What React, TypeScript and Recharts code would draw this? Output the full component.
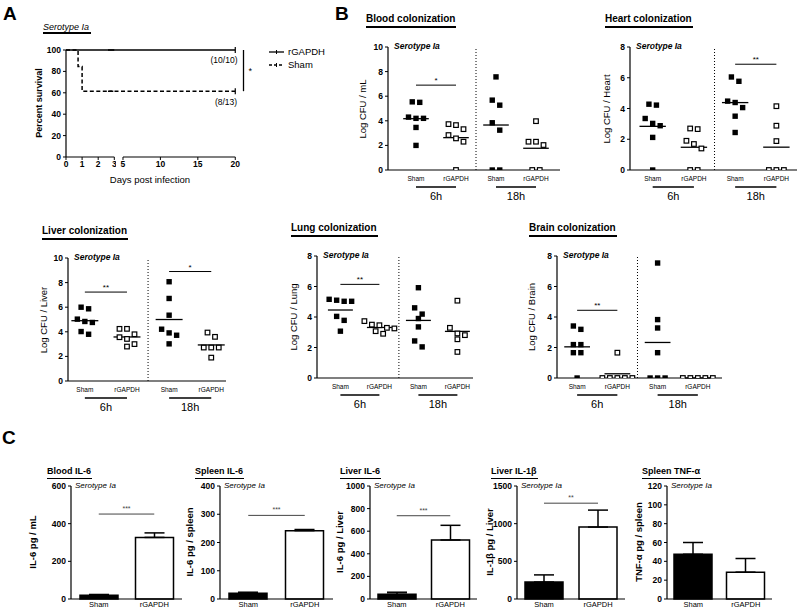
import React from 'react';
import {
  LineChart, Line, ScatterChart, Scatter, BarChart, Bar, Cell, ErrorBar,
  XAxis, YAxis, ReferenceLine,
} from 'recharts';

const FONT = 'Arial, "Liberation Sans", Helvetica, sans-serif';

// ---------- A: survival ----------
const survivalDays = [0, 0.75, 1, 3, 5, 20];
const shamSurvival = [100, 84.6, 61.5, 61.5, 61.5, 61.5];
const rgapdhSurvival = [100, 100, 100, 100, 100, 100];
const survivalTicks = [0, 20, 40, 60, 80, 100];
const earlyDayTicks = [0, 1, 2, 3];
const lateDayTicks = [5, 10, 15, 20];

// ---------- B: colonization (Log CFU) ----------
const groupLabels = ['Sham', 'rGAPDH', 'Sham', 'rGAPDH'];
const timeLabels = ['6h', '18h'];

const bloodSham6h = [5.54, 5.5, 4.3, 4.2, 4.2, 3.46, 2.0];
const bloodRgapdh6h = [3.73, 3.65, 3.32, 2.84, 2.57, 2.3, 0];
const bloodSham18h = [7.57, 5.68, 5.27, 3.84, 3.24, 0, 0];
const bloodRgapdh18h = [3.97, 2.3, 2.3, 2.03, 0, 0];

const heartSham6h = [4.28, 4.22, 3.35, 3.03, 2.88, 2.12, 0];
const heartRgapdh6h = [2.7, 2.66, 1.9, 1.69, 1.4, 0, 0];
const heartSham18h = [6.05, 5.77, 4.48, 4.39, 4.06, 3.5, 2.44];
const heartRgapdh18h = [4.15, 2.88, 1.88, 0, 0, 0];

const liverSham6h = [6.0, 5.87, 5.03, 4.84, 4.76, 4.02, 3.8];
const liverRgapdh6h = [4.24, 4.24, 3.8, 3.56, 3.42, 3.0, 2.8];
const liverSham18h = [8.07, 6.71, 5.35, 4.21, 3.91, 3.72, 3.02];
const liverRgapdh18h = [3.94, 3.59, 2.72, 2.72, 2.72, 1.9];

const lungSham6h = [5.16, 5.1, 5.03, 5.03, 4.04, 3.78, 3.07];
const lungRgapdh6h = [3.73, 3.5, 3.46, 3.29, 3.25, 3.07, 2.9];
const lungSham18h = [5.92, 4.6, 4.19, 3.9, 3.35, 2.43, 2.04];
const lungRgapdh18h = [5.07, 3.29, 2.92, 2.81, 2.54, 1.71];

const brainSham6h = [3.41, 3.19, 2.19, 2.19, 1.66, 1.66, 0];
const brainRgapdh6h = [1.66, 0, 0, 0, 0, 0];
const brainSham18h = [7.54, 3.83, 3.28, 1.66, 0, 0, 0];
const brainRgapdh18h = [0, 0, 0, 0, 0];

const bloodSigs = [{ from: 1, to: 2, y: 6.9, label: '*' }];
const heartSigs = [{ from: 3, to: 4, y: 6.88, label: '**' }];
const liverSigs = [{ from: 1, to: 2, y: 7.23, label: '**' }, { from: 3, to: 4, y: 8.9, label: '*' }];
const lungSigs = [{ from: 1, to: 2, y: 6.14, label: '**' }];
const brainSigs = [{ from: 1, to: 2, y: 4.44, label: '**' }];

// ---------- C: cytokines (mean + SEM) ----------
const cytokineGroups = ['Sham', 'rGAPDH'];
const bloodIl6Mean = [20, 327];
const bloodIl6Sem = [4, 24];
const spleenIl6Mean = [20, 242];
const spleenIl6Sem = [4, 4];
const liverIl6Mean = [42, 522];
const liverIl6Sem = [18, 130];
const liverIl1bMean = [225, 955];
const liverIl1bSem = [95, 225];
const spleenTnfMean = [47.5, 28.5];
const spleenTnfSem = [12.5, 14.5];

// ---------- helpers ----------
type Box = { x0: number; y0: number; x1: number; y1: number };
type Sig = { from: number; to: number; y: number; label: string };

const tickStyle = { fontSize: 8.5, fontWeight: 'bold', fill: '#000', fontFamily: FONT };
const axisLine = { stroke: '#000', strokeWidth: 1.2 };

const steps = (max: number, step: number) => {
  const out: number[] = [];
  for (let v = 0; v <= max + 1e-9; v += step) out.push(v);
  return out;
};

const Text = ({ x, y, text, size = 9, bold = false, italic = false, center = false }: any) => (
  <div style={{
    position: 'absolute', left: x, top: y, transform: center ? 'translate(-50%, -50%)' : 'translateY(-50%)',
    fontFamily: FONT, fontSize: size, fontWeight: bold ? 'bold' : 'normal', fontStyle: italic ? 'italic' : 'normal',
    whiteSpace: 'nowrap', lineHeight: 1,
  }}>{text}</div>
);

const VText = ({ x, y, text, size = 9.5, bold = false }: any) => (
  <div style={{
    position: 'absolute', left: x, top: y, transform: 'translate(-50%, -50%) rotate(-90deg)',
    fontFamily: FONT, fontSize: size, fontWeight: bold ? 'bold' : 'normal', whiteSpace: 'nowrap', lineHeight: 1,
  }}>{text}</div>
);

const Title = ({ x, y, text, size = 10, line = 2 }: any) => (
  <div style={{
    position: 'absolute', left: x, top: y, fontFamily: FONT, fontWeight: 'bold', fontSize: size,
    lineHeight: `${size + 2}px`, borderBottom: `${line}px solid #000`, paddingBottom: 1, paddingRight: 1, whiteSpace: 'nowrap',
  }}>{text}</div>
);

// beeswarm-like arrangement: values close in y share a row, centred on the group
function swarm(values: number[], center: number, rowTol: number, step: number) {
  const sorted = [...values].sort((a, b) => b - a);
  const pts: { x: number; y: number }[] = [];
  let i = 0;
  while (i < sorted.length) {
    let j = i;
    while (j < sorted.length && sorted[i] - sorted[j] <= rowTol) j++;
    const n = j - i;
    for (let k = 0; k < n; k++) pts.push({ x: center + (k - (n - 1) / 2) * step, y: sorted[i + k] });
    i = j;
  }
  return pts;
}

const filledSquare = (p: any) => <rect x={p.cx - 2.7} y={p.cy - 2.7} width={5.4} height={5.4} fill="#000" />;
const openSquare = (p: any) => (
  <rect x={p.cx - 2.3} y={p.cy - 2.3} width={4.6} height={4.6} fill="#fff" stroke="#000" strokeWidth={1.2} />
);

const S_PAD_L = 26, S_PAD_R = 6, S_PAD_T = 8, S_PAD_B = 36;

function ScatterPanel({ box, xDomain, yMax, groups, sigs }: { box: Box; xDomain: number[]; yMax: number; groups: number[][]; sigs: Sig[] }) {
  const w = box.x1 - box.x0;
  const h = box.y1 - box.y0;
  const pxX = w / (xDomain[1] - xDomain[0]);
  const pxY = h / yMax;
  const sets = groups.map((vals, g) => swarm(vals, g + 1, 8 / pxY, 7.5 / pxX));
  const means = groups.map((vals) => vals.reduce((a, b) => a + b, 0) / vals.length);

  const groupTick = (p: any) => {
    const v = p.payload.value;
    if (Number.isInteger(v)) {
      return (
        <text x={p.x} y={p.y + 11} textAnchor="middle" fontSize={6.5} fontFamily={FONT} fill="#000">
          {groupLabels[v - 1]}
        </text>
      );
    }
    return (
      <g>
        <line x1={p.x - pxX / 2} x2={p.x + pxX / 2} y1={p.y + 17} y2={p.y + 17} stroke="#000" strokeWidth={1.6} />
        <text x={p.x} y={p.y + 30} textAnchor="middle" fontSize={11} fontFamily={FONT} fill="#000">
          {timeLabels[Math.floor(v / 2)]}
        </text>
      </g>
    );
  };

  return (
    <div style={{ position: 'absolute', left: box.x0 - S_PAD_L, top: box.y0 - S_PAD_T }}>
      <ScatterChart width={w + S_PAD_L + S_PAD_R} height={h + S_PAD_T + S_PAD_B}
        margin={{ top: S_PAD_T, right: S_PAD_R, bottom: 0, left: 0 }}>
        <XAxis type="number" dataKey="x" domain={xDomain} allowDataOverflow ticks={[1, 1.5, 2, 3, 3.5, 4]} interval={0}
          axisLine={axisLine} tickLine={false} tickSize={0} tickMargin={0} tick={groupTick} height={S_PAD_B} />
        <YAxis type="number" dataKey="y" domain={[0, yMax]} allowDataOverflow ticks={steps(yMax, 2)} interval={0}
          width={S_PAD_L} axisLine={axisLine} tickLine={{ stroke: '#000' }} tickSize={3} tick={tickStyle} />
        <ReferenceLine x={2.5} stroke="#000" strokeWidth={1} strokeDasharray="1 2" />
        {sets.map((pts, g) => (
          <Scatter key={g} data={pts} isAnimationActive={false} shape={g % 2 === 0 ? filledSquare : openSquare} />
        ))}
        {means.map((m, g) => (
          <ReferenceLine key={'m' + g} segment={[{ x: g + 1 - 0.32, y: m }, { x: g + 1 + 0.32, y: m }]}
            stroke="#000" strokeWidth={1.3} />
        ))}
        {sigs.map((s, i) => (
          <ReferenceLine key={'s' + i} segment={[{ x: s.from, y: s.y }, { x: s.to, y: s.y }]} stroke="#000" strokeWidth={1}
            label={{ value: s.label, position: 'top', fontSize: 8, fill: '#000', offset: 2 }} />
        ))}
      </ScatterChart>
    </div>
  );
}

const B_PAD_L = 30, B_PAD_R = 3, B_PAD_T = 8, B_PAD_B = 16;

function BarPanel({ box, yMax, yStep, means, sems, sig }: { box: Box; yMax: number; yStep: number; means: number[]; sems: number[]; sig?: { y: number; label: string } }) {
  const w = box.x1 - box.x0;
  const h = box.y1 - box.y0;
  const rows = cytokineGroups.map((g, i) => ({ group: g, mean: means[i], err: [0, sems[i]] }));
  return (
    <div style={{ position: 'absolute', left: box.x0 - B_PAD_L, top: box.y0 - B_PAD_T }}>
      <BarChart width={w + B_PAD_L + B_PAD_R} height={h + B_PAD_T + B_PAD_B} data={rows}
        margin={{ top: B_PAD_T, right: B_PAD_R, bottom: 0, left: 0 }} barCategoryGap={0}>
        <XAxis dataKey="group" interval={0} axisLine={axisLine} tickLine={false} tickSize={0} tickMargin={3}
          height={B_PAD_B} tick={{ fontSize: 7.5, fill: '#000', fontFamily: FONT }} />
        <YAxis type="number" domain={[0, yMax]} ticks={steps(yMax, yStep)} interval={0} width={B_PAD_L}
          axisLine={axisLine} tickLine={{ stroke: '#000' }} tickSize={3} tick={tickStyle} />
        <Bar dataKey="mean" barSize={38} stroke="#000" strokeWidth={1.5} isAnimationActive={false}>
          {rows.map((r, i) => <Cell key={i} fill={i === 0 ? '#000' : '#fff'} />)}
          <ErrorBar dataKey="err" direction="y" width={10} stroke="#000" strokeWidth={1.5} />
        </Bar>
        {sig && (
          <ReferenceLine segment={[{ x: 'Sham', y: sig.y }, { x: 'rGAPDH', y: sig.y }]} stroke="#444" strokeWidth={1}
            label={{ value: sig.label, position: 'top', fontSize: 7, fill: '#444', offset: 3 }} />
        )}
      </BarChart>
    </div>
  );
}

const censorDot = (last: number) => (p: any) =>
  p.index === last
    ? <line key={'c' + p.index} x1={p.cx} x2={p.cx} y1={p.cy - 3} y2={p.cy + 3} stroke="#000" strokeWidth={1.2} />
    : <g key={'c' + p.index} />;

function SurvivalPanel() {
  const rows = survivalDays.map((d, i) => ({ day: d, sham: shamSurvival[i], rgapdh: rgapdhSurvival[i] }));
  const early = rows.filter((r) => r.day <= 3);
  const late = rows.filter((r) => r.day >= 3);
  const left: Box = { x0: 65.7, y0: 50, x1: 114, y1: 157 };
  // right segment: 5..20 drawn at 122.7..235, its domain starts at day 3 so the curves bridge the axis break
  const dayPx = (235 - 122.7) / 15;
  const right: Box = { x0: 122.7 - 2 * dayPx, y0: 50, x1: 235, y1: 157 };
  const padT = 8, padB = 20;
  return (
    <>
      <div style={{ position: 'absolute', left: left.x0 - 26, top: left.y0 - padT }}>
        <LineChart width={left.x1 - left.x0 + 26 + 2} height={left.y1 - left.y0 + padT + padB} data={early}
          margin={{ top: padT, right: 2, bottom: 0, left: 0 }}>
          <XAxis type="number" dataKey="day" domain={[0, 3]} ticks={earlyDayTicks} interval={0} axisLine={axisLine}
            tickLine={{ stroke: '#000' }} tickSize={3} tickMargin={1} tick={tickStyle} height={padB} />
          <YAxis type="number" domain={[0, 100]} ticks={survivalTicks} interval={0} width={26} axisLine={axisLine}
            tickLine={{ stroke: '#000' }} tickSize={3} tick={tickStyle} />
          <Line dataKey="rgapdh" type="stepAfter" stroke="#000" strokeWidth={1.5} dot={false} isAnimationActive={false} />
          <Line dataKey="sham" type="stepAfter" stroke="#000" strokeWidth={1.5} strokeDasharray="4 2.5" dot={false}
            isAnimationActive={false} />
        </LineChart>
      </div>
      <div style={{ position: 'absolute', left: right.x0 - 4, top: right.y0 - padT }}>
        <LineChart width={right.x1 - right.x0 + 4 + 30} height={right.y1 - right.y0 + padT + padB} data={late}
          margin={{ top: padT, right: 30, bottom: 0, left: 4 }}>
          <XAxis type="number" dataKey="day" domain={[3, 20]} ticks={lateDayTicks} interval={0} axisLine={false}
            tickLine={{ stroke: '#000' }} tickSize={3} tickMargin={1} tick={tickStyle} height={padB} />
          <YAxis type="number" domain={[0, 100]} hide />
          <ReferenceLine segment={[{ x: 5, y: 0 }, { x: 20, y: 0 }]} stroke="#000" strokeWidth={1.2} />
          <Line dataKey="rgapdh" type="stepAfter" stroke="#000" strokeWidth={1.5} dot={censorDot(late.length - 1)}
            isAnimationActive={false} />
          <Line dataKey="sham" type="stepAfter" stroke="#000" strokeWidth={1.5} strokeDasharray="4 2.5"
            dot={censorDot(late.length - 1)} isAnimationActive={false} />
          <ReferenceLine segment={[{ x: 21.1, y: shamSurvival[shamSurvival.length - 1] }, { x: 21.1, y: 100 }]}
            ifOverflow="visible" stroke="#000" strokeWidth={1.3}
            label={{ value: '*', position: 'right', fontSize: 9, fill: '#000', offset: 5 }} />
        </LineChart>
      </div>
      <Text x={224} y={60} text="(10/10)" size={8.5} center />
      <Text x={226} y={102} text="(8/13)" size={8.5} center />
      <VText x={39} y={103} text="Percent survival" size={9} bold />
      <Text x={150} y={180} text="Days post infection" size={9.5} center />
      <div style={{ position: 'absolute', left: 43, top: 22, fontFamily: FONT, fontStyle: 'italic', fontSize: 9,
        lineHeight: '10px', borderBottom: '2px solid #000', paddingBottom: 0, paddingRight: 2, whiteSpace: 'nowrap' }}>
        Serotype Ia
      </div>
      <svg style={{ position: 'absolute', left: 268, top: 45 }} width={20} height={26}>
        <line x1={1} x2={16} y1={7} y2={7} stroke="#000" strokeWidth={1.3} />
        <line x1={8.5} x2={8.5} y1={5} y2={9} stroke="#000" strokeWidth={1} />
        <line x1={1} x2={16} y1={20} y2={20} stroke="#000" strokeWidth={1.3} strokeDasharray="3 2" />
        <line x1={8.5} x2={8.5} y1={18} y2={22} stroke="#000" strokeWidth={1} />
      </svg>
      <Text x={288} y={52} text="rGAPDH" size={9.5} />
      <Text x={288} y={65} text="Sham" size={9.5} />
    </>
  );
}

const scatterPanels = [
  { title: 'Blood colonization', tx: 366, ty: 13, yLabel: 'Log CFU / mL', lx: 363,
    box: { x0: 388, y0: 47, x1: 560, y1: 170 }, xDomain: [0.3, 4.6], yMax: 10,
    groups: [bloodSham6h, bloodRgapdh6h, bloodSham18h, bloodRgapdh18h], sigs: bloodSigs },
  { title: 'Heart colonization', tx: 605, ty: 13, yLabel: 'Log CFU / Heart', lx: 607,
    box: { x0: 630, y0: 47, x1: 797, y1: 170 }, xDomain: [0.45, 4.5], yMax: 8,
    groups: [heartSham6h, heartRgapdh6h, heartSham18h, heartRgapdh18h], sigs: heartSigs },
  { title: 'Liver colonization', tx: 42, ty: 225, yLabel: 'Log CFU / Liver', lx: 44,
    box: { x0: 68, y0: 258, x1: 226, y1: 381 }, xDomain: [0.6, 4.35], yMax: 10,
    groups: [liverSham6h, liverRgapdh6h, liverSham18h, liverRgapdh18h], sigs: liverSigs },
  { title: 'Lung colonization', tx: 291, ty: 222, yLabel: 'Log CFU / Lung', lx: 294,
    box: { x0: 317, y0: 256, x1: 473, y1: 378 }, xDomain: [0.4, 4.4], yMax: 8,
    groups: [lungSham6h, lungRgapdh6h, lungSham18h, lungRgapdh18h], sigs: lungSigs },
  { title: 'Brain colonization', tx: 529, ty: 222, yLabel: 'Log CFU / Brain', lx: 532,
    box: { x0: 557, y0: 256, x1: 722, y1: 378 }, xDomain: [0.5, 4.6], yMax: 8,
    groups: [brainSham6h, brainRgapdh6h, brainSham18h, brainRgapdh18h], sigs: brainSigs },
];

const barPanels = [
  { title: 'Blood IL-6', tx: 47, yLabel: 'IL-6 pg / mL', lx: 33, box: { x0: 71, y0: 486, x1: 182, y1: 599 },
    yMax: 600, yStep: 200, means: bloodIl6Mean, sems: bloodIl6Sem, sig: { y: 451, label: '***' } },
  { title: 'Spleen IL-6', tx: 195, yLabel: 'IL-6 pg / spleen', lx: 190, box: { x0: 220, y0: 486, x1: 333, y1: 599 },
    yMax: 400, yStep: 100, means: spleenIl6Mean, sems: spleenIl6Sem, sig: { y: 296, label: '***' } },
  { title: 'Liver IL-6', tx: 340, yLabel: 'IL-6 pg / Liver', lx: 340, box: { x0: 370, y0: 486, x1: 477, y1: 599 },
    yMax: 1000, yStep: 200, means: liverIl6Mean, sems: liverIl6Sem, sig: { y: 737, label: '***' } },
  { title: 'Liver IL-1\u03b2', tx: 491, yLabel: 'IL-1\u03b2 pg / Liver', lx: 490, box: { x0: 517, y0: 486, x1: 625, y1: 599 },
    yMax: 1500, yStep: 500, means: liverIl1bMean, sems: liverIl1bSem, sig: { y: 1272, label: '**' } },
  { title: 'Spleen TNF-\u03b1', tx: 642, yLabel: 'TNF-\u03b1 pg / spleen', lx: 639, box: { x0: 667, y0: 486, x1: 772, y1: 599 },
    yMax: 120, yStep: 20, means: spleenTnfMean, sems: spleenTnfSem, sig: undefined },
];

export default function App() {
  return (
    <div style={{ position: 'relative', width: 800, height: 613, background: '#fff', overflow: 'hidden', fontFamily: FONT }}>
      <style>{'body{margin:0}'}</style>
      <Text x={3} y={13} text="A" size={19} bold />
      <Text x={335} y={13} text="B" size={19} bold />
      <Text x={2} y={437} text="C" size={19} bold />

      <SurvivalPanel />

      {scatterPanels.map((p) => (
        <React.Fragment key={p.title}>
          <Title x={p.tx} y={p.ty} text={p.title} size={10} line={2} />
          <ScatterPanel box={p.box} xDomain={p.xDomain} yMax={p.yMax} groups={p.groups} sigs={p.sigs} />
          <VText x={p.lx} y={(p.box.y0 + p.box.y1) / 2} text={p.yLabel} size={9.5} />
          <Text x={p.box.x0 + 6} y={p.box.y0 - 1} text="Serotype Ia" size={8.5} bold italic />
        </React.Fragment>
      ))}

      {barPanels.map((p) => (
        <React.Fragment key={p.title}>
          <Title x={p.tx} y={466} text={p.title} size={9} line={1.5} />
          <BarPanel box={p.box} yMax={p.yMax} yStep={p.yStep} means={p.means} sems={p.sems} sig={p.sig} />
          <VText x={p.lx} y={542} text={p.yLabel} size={9.5} bold />
          <Text x={p.box.x0 + 4} y={p.box.y0} text="Serotype Ia" size={8} italic />
        </React.Fragment>
      ))}
    </div>
  );
}
